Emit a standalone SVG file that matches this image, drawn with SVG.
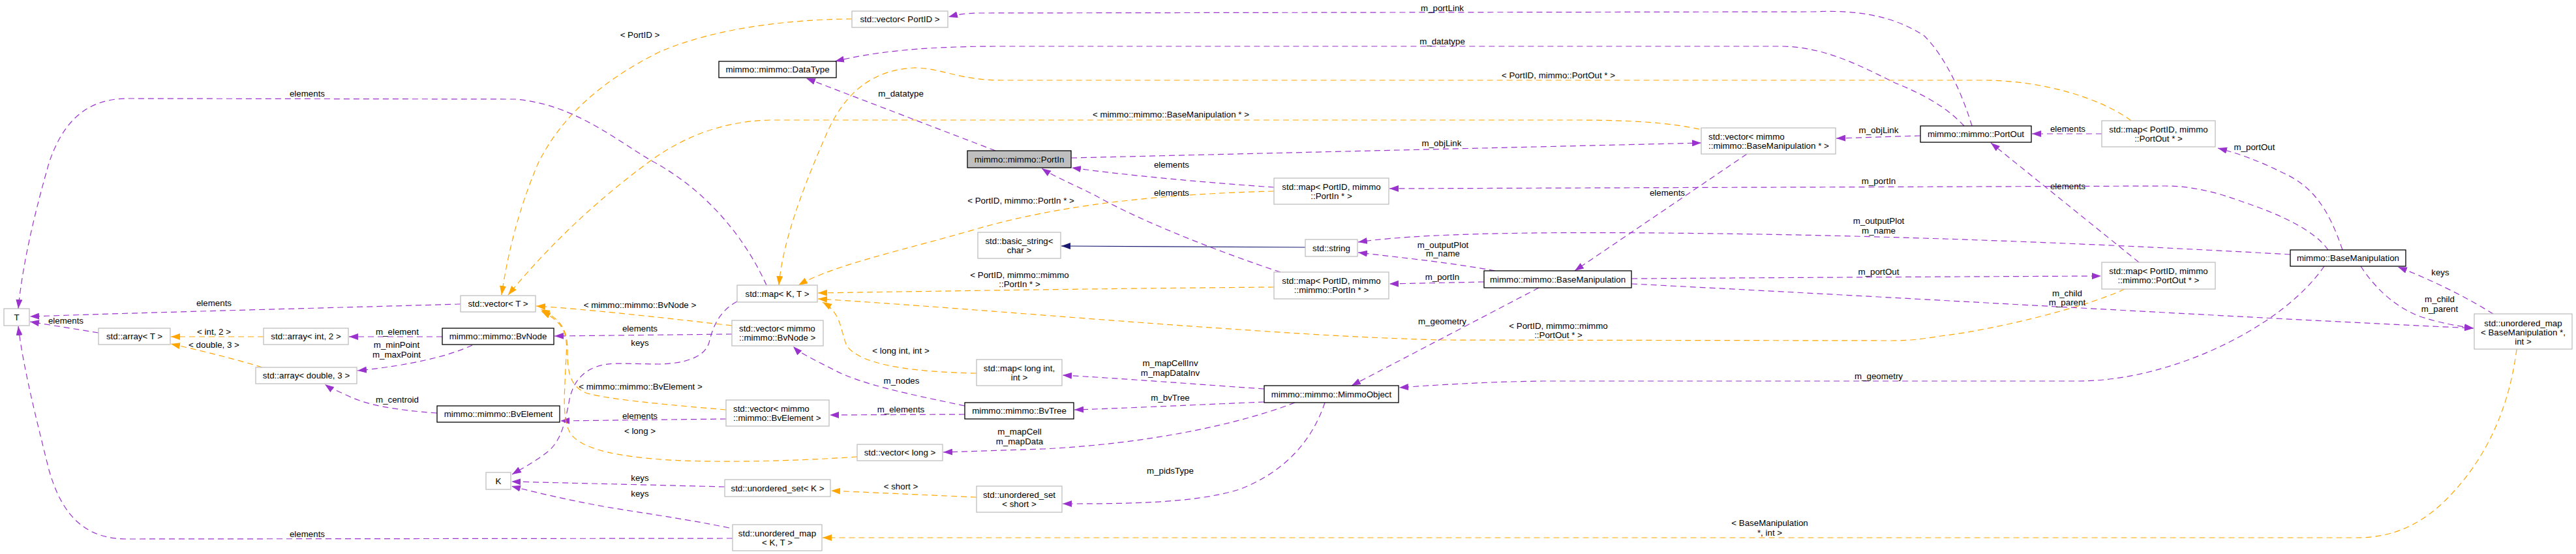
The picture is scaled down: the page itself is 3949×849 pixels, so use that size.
<svg xmlns="http://www.w3.org/2000/svg" width="3949" height="849" viewBox="0 0 3949 849">
<style>
text{font-family:"Liberation Sans",Arial,Helvetica,sans-serif;font-size:13.33px;fill:#000}
.n rect{fill:#fff;stroke:#bfbfbf;stroke-width:1.3}
.n.d rect{stroke:#000}
.n.g rect{fill:#bfbfbf;stroke:#000}
.n text{text-anchor:middle}
.n text.l{text-anchor:start}
#edges path{fill:none;stroke-width:1.2;stroke-dasharray:9,6}
#edges .p path{stroke:#9a32cd;marker-end:url(#ap)}
#edges .o path{stroke:#ffa500;marker-end:url(#ao)}
#edges .b path{stroke:#191970;stroke-dasharray:none;marker-end:url(#ab)}
#edges text{text-anchor:middle}
</style>
<defs>
<marker id="ap" viewBox="0 0 14 10" refX="14" refY="5" markerWidth="14" markerHeight="10" markerUnits="userSpaceOnUse" orient="auto"><path d="M0,0L14,5L0,10z" fill="#9a32cd"/></marker>
<marker id="ao" viewBox="0 0 14 10" refX="14" refY="5" markerWidth="14" markerHeight="10" markerUnits="userSpaceOnUse" orient="auto"><path d="M0,0L14,5L0,10z" fill="#ffa500"/></marker>
<marker id="ab" viewBox="0 0 14 10" refX="14" refY="5" markerWidth="14" markerHeight="10" markerUnits="userSpaceOnUse" orient="auto"><path d="M0,0L14,5L0,10z" fill="#191970"/></marker>
</defs>
<rect width="3949" height="849" fill="#fff"/>

<g id="edges">
<g class="o"><path d="M1306,29 C1200,30 1090,45 1010,80 C920,125 860,180 825,250 C795,320 778,390 769,452"/><text x="981" y="57.5">&lt; PortID &gt;</text></g>
<g class="p"><path d="M1175,437 C1140,360 1080,290 1000,247 C940,212 880,160 790,152 L195,151 C130,151 95,190 75,250 C55,320 35,400 28,473"/><text x="471" y="147.5">elements</text></g>
<g class="p"><path d="M706,466 C500,472 250,478 46,485"/><text x="328" y="468.5">elements</text></g>
<g class="p"><path d="M151,510 L46,493"/><text x="101" y="495.5">elements</text></g>
<g class="o"><path d="M404,516 L262,516"/><text x="328" y="512.5">&lt; int, 2 &gt;</text></g>
<g class="o"><path d="M402,563 C370,553 320,540 262,527"/><text x="328" y="532.5">&lt; double, 3 &gt;</text></g>
<g class="p"><path d="M678,516 L535,516"/><text x="609" y="512.5">m_element</text></g>
<g class="p"><path d="M724,529 C690,545 630,560 548,568"/><text x="608" y="532.5">m_minPoint</text><text x="608" y="547.5">m_maxPoint</text></g>
<g class="p"><path d="M670,633 C600,628 560,620 530,605 C515,598 505,594 498,589"/><text x="609" y="616.5">m_centroid</text></g>
<g class="p"><path d="M1122,512 L850,515"/><text x="981" y="507.5">elements</text></g>
<g class="o"><path d="M1122,499 C1000,485 900,474 822,469"/><text x="981" y="471.5">&lt; mimmo::mimmo::BvNode &gt;</text></g>
<g class="p"><path d="M1130,462 C1100,478 1092,505 1087,525 C1080,548 1050,557 1010,558 L945,557 C900,558 880,580 873,612 C866,650 860,675 840,692 C820,708 800,718 785,727"/><text x="981" y="529.5">keys</text></g>
<g class="p"><path d="M1113,642 L859,645"/><text x="981" y="641.5">elements</text></g>
<g class="o"><path d="M1113,628 C1020,620 930,612 898,602 C874,592 870,570 870,540 C870,510 865,492 829,474"/><text x="982" y="596.5">&lt; mimmo::mimmo::BvElement &gt;</text></g>
<g class="o"><path d="M1314,700 C1200,708 1060,710 990,702 C930,696 890,685 875,665 C862,645 865,610 867,565 C869,520 875,500 830,477"/><text x="981" y="664.5">&lt; long &gt;</text></g>
<g class="p"><path d="M1111,746 L784,738"/><text x="981" y="736.5">keys</text></g>
<g class="p"><path d="M1118,809 C1050,795 990,787 930,777 C880,768 830,757 784,745"/><text x="981" y="760.5">keys</text></g>
<g class="p"><path d="M1123,825 L195,826 C130,826 95,790 75,720 C55,640 35,560 28,500"/><text x="471" y="822.5">elements</text></g>
<g class="p"><path d="M1526,231 L1236,120"/><text x="1381" y="147.5">m_datatype</text></g>
<g class="p"><path d="M3011,193 C2985,165 2950,145 2905,127 C2860,105 2800,72 2733,71 L1530,71 C1400,71 1330,82 1280,94"/><text x="2211" y="67.5">m_datatype</text></g>
<g class="p"><path d="M3023,193 C3010,150 2985,90 2950,55 C2900,22 2840,15 2780,18 L1500,20 C1480,20 1465,23 1454,26"/><text x="2211" y="16.5">m_portLink</text></g>
<g class="o"><path d="M3267,185 C3220,150 3130,123 3040,123 L1535,123 C1470,123 1440,103 1400,104 C1330,108 1290,150 1265,210 C1230,290 1200,370 1194,437"/><text x="2389" y="119.5">&lt; PortID, mimmo::PortOut * &gt;</text></g>
<g class="o"><path d="M2605,198 C2560,188 2500,184 2420,184 L1180,184 C1100,186 1040,215 995,248 C900,318 830,390 779,452"/><text x="1795" y="179.5">&lt; mimmo::mimmo::BaseManipulation * &gt;</text></g>
<g class="p"><path d="M1642,242 L2608,219"/><text x="2210" y="223.5">m_objLink</text></g>
<g class="p"><path d="M2944,208 L2815,212"/><text x="2880" y="203.5">m_objLink</text></g>
<g class="p"><path d="M1953,287 C1850,280 1720,268 1643,257"/><text x="1796" y="256.5">elements</text></g>
<g class="o"><path d="M1953,293 C1800,297 1640,310 1500,350 C1380,385 1280,405 1224,437"/><text x="1565" y="311.5">&lt; PortID, mimmo::PortIn * &gt;</text></g>
<g class="p"><path d="M1963,417 C1880,390 1750,340 1680,300 C1640,280 1615,270 1597,258"/><text x="1796" y="299.5">elements</text></g>
<g class="o"><path d="M1953,440 C1700,442 1450,446 1254,449"/><text x="1563" y="425.5">&lt; PortID, mimmo::mimmo</text><text x="1563" y="439.5">::PortIn * &gt;</text></g>
<g class="b"><path d="M2001,379 L1627,377"/></g>
<g class="o"><path d="M3257,443 C3200,470 3060,505 2975,515 C2945,520 2925,522 2900,522 L2210,521 C2100,518 2000,512 1900,505 C1700,492 1450,470 1254,458"/><text x="2389" y="503.5">&lt; PortID, mimmo::mimmo</text><text x="2389" y="517.5">::PortOut * &gt;</text></g>
<g class="p"><path d="M3511,390 C3300,378 3000,364 2700,359 C2450,355 2200,354 2082,371"/><text x="2880" y="342.5">m_outputPlot</text><text x="2880" y="357.5">m_name</text></g>
<g class="p"><path d="M2292,415 C2220,402 2150,395 2082,387"/><text x="2212" y="379.5">m_outputPlot</text><text x="2212" y="392.5">m_name</text></g>
<g class="p"><path d="M2275,432 L2130,435"/><text x="2211" y="428.5">m_portIn</text></g>
<g class="p"><path d="M3569,383 C3550,355 3500,330 3440,310 C3400,295 3360,285 3320,285 L2130,289"/><text x="2880" y="281.5">m_portIn</text></g>
<g class="p"><path d="M2678,236 L2414,415"/><text x="2556" y="299.5">elements</text></g>
<g class="p"><path d="M2359,441 L2072,591"/><text x="2211" y="496.5">m_geometry</text></g>
<g class="p"><path d="M3563,408 C3500,500 3330,584 3185,584 L2365,584 C2280,585 2200,590 2145,594"/><text x="2880" y="580.5">m_geometry</text></g>
<g class="p"><path d="M2501,427 C2800,425 3000,424 3221,423"/><text x="2880" y="420.5">m_portOut</text></g>
<g class="p"><path d="M3591,383 C3570,320 3545,285 3500,265 C3460,245 3430,235 3400,227"/><text x="3456" y="229.5">m_portOut</text></g>
<g class="p"><path d="M3222,205 L3115,205"/><text x="3170" y="201.5">elements</text></g>
<g class="p"><path d="M3279,402 L3052,219"/><text x="3170" y="289.5">elements</text></g>
<g class="p"><path d="M2501,435 C2900,455 3400,485 3792,503"/><text x="3169" y="453.5">m_child</text><text x="3169" y="467.5">m_parent</text></g>
<g class="p"><path d="M3619,408 C3640,440 3670,470 3710,485 C3740,495 3770,500 3792,503"/><text x="3740" y="462.5">m_child</text><text x="3740" y="477.5">m_parent</text></g>
<g class="p"><path d="M3822,481 C3780,455 3730,430 3676,409"/><text x="3741" y="421.5">keys</text></g>
<g class="o"><path d="M3858,535 C3845,640 3800,720 3740,775 C3700,810 3660,824 3613,824 L1261,824"/><text x="2713" y="805.5">&lt; BaseManipulation</text><text x="2713" y="820.5">*, int &gt;</text></g>
<g class="p"><path d="M1938,596 C1850,590 1720,580 1629,575"/><text x="1794" y="560.5">m_mapCellInv</text><text x="1794" y="575.5">m_mapDataInv</text></g>
<g class="p"><path d="M1938,616 C1840,620 1740,625 1647,628"/><text x="1794" y="613.5">m_bvTree</text></g>
<g class="p"><path d="M1985,617 C1900,650 1760,680 1600,688 L1446,693"/><text x="1563" y="665.5">m_mapCell</text><text x="1563" y="680.5">m_mapData</text></g>
<g class="p"><path d="M2031,617 C2010,680 1965,725 1900,750 C1830,772 1720,772 1629,772"/><text x="1794" y="725.5">m_pidsType</text></g>
<g class="o"><path d="M1497,572 C1400,570 1320,560 1298,530 C1288,505 1290,480 1261,463"/><text x="1381" y="541.5">&lt; long int, int &gt;</text></g>
<g class="p"><path d="M1479,622 C1400,605 1320,590 1275,565 C1245,550 1225,540 1216,531"/><text x="1382" y="587.5">m_nodes</text></g>
<g class="p"><path d="M1479,635 L1272,636"/><text x="1381" y="631.5">m_elements</text></g>
<g class="o"><path d="M1497,762 L1274,752"/><text x="1381" y="749.5">&lt; short &gt;</text></g>
</g>

<g id="n_T" class="n"><rect x="6" y="473" width="39" height="26"/><text x="25.5" y="490.7">T</text></g>
<g id="n_vecT" class="n"><rect x="706" y="453" width="115" height="25"/><text x="763.5" y="470.2">std::vector&lt; T &gt;</text></g>
<g id="n_arrT" class="n"><rect x="151" y="503" width="110" height="25"/><text x="206" y="520.2">std::array&lt; T &gt;</text></g>
<g id="n_arrInt2" class="n"><rect x="404" y="503" width="130" height="25"/><text x="469" y="520.2">std::array&lt; int, 2 &gt;</text></g>
<g id="n_BvNode" class="n d"><rect x="678" y="503" width="171" height="25"/><text x="763.5" y="520.2">mimmo::mimmo::BvNode</text></g>
<g id="n_arrD3" class="n"><rect x="392" y="563" width="155" height="25"/><text x="469.5" y="580.2">std::array&lt; double, 3 &gt;</text></g>
<g id="n_BvElement" class="n d"><rect x="670" y="622" width="188" height="25"/><text x="764" y="639.2">mimmo::mimmo::BvElement</text></g>
<g id="n_K" class="n"><rect x="745" y="724" width="38" height="26"/><text x="764" y="741.7">K</text></g>
<g id="n_vecPortID" class="n"><rect x="1306" y="17" width="147" height="25"/><text x="1379.5" y="34.2">std::vector&lt; PortID &gt;</text></g>
<g id="n_DataType" class="n d"><rect x="1102" y="94" width="180" height="25"/><text x="1192" y="111.2">mimmo::mimmo::DataType</text></g>
<g id="n_PortIn" class="n g"><rect x="1483" y="231" width="159" height="26"/><text x="1562.5" y="248.7">mimmo::mimmo::PortIn</text></g>
<g id="n_basicString" class="n"><rect x="1499" y="356" width="127" height="40"/><text x="1562.5" y="373.7">std::basic_string&lt;</text><text x="1562.5" y="387.7">char &gt;</text></g>
<g id="n_mapKT" class="n"><rect x="1130" y="437" width="123" height="26"/><text x="1191.5" y="454.7">std::map&lt; K, T &gt;</text></g>
<g id="n_vecBvNode" class="n"><rect x="1122" y="491" width="140" height="39"/><text class="l" x="1133" y="508.2">std::vector&lt; mimmo</text><text class="l" x="1133" y="522.2">::mimmo::BvNode &gt;</text></g>
<g id="n_mapLongInt" class="n"><rect x="1497" y="551" width="131" height="40"/><text x="1562.5" y="568.7">std::map&lt; long int,</text><text x="1562.5" y="582.7">int &gt;</text></g>
<g id="n_vecBvElement" class="n"><rect x="1113" y="613" width="158" height="40"/><text class="l" x="1124" y="630.7">std::vector&lt; mimmo</text><text class="l" x="1124" y="644.7">::mimmo::BvElement &gt;</text></g>
<g id="n_BvTree" class="n d"><rect x="1479" y="617" width="167" height="25"/><text x="1562.5" y="634.2">mimmo::mimmo::BvTree</text></g>
<g id="n_vecLong" class="n"><rect x="1314" y="681" width="131" height="25"/><text x="1379.5" y="698.2">std::vector&lt; long &gt;</text></g>
<g id="n_usetK" class="n"><rect x="1111" y="735" width="162" height="26"/><text x="1192" y="752.7">std::unordered_set&lt; K &gt;</text></g>
<g id="n_usetShort" class="n"><rect x="1497" y="745" width="131" height="40"/><text x="1562.5" y="762.7">std::unordered_set</text><text x="1562.5" y="776.7">&lt; short &gt;</text></g>
<g id="n_umapKT" class="n"><rect x="1123" y="804" width="137" height="40"/><text x="1191.5" y="821.7">std::unordered_map</text><text x="1191.5" y="835.7">&lt; K, T &gt;</text></g>
<g id="n_MimmoObject" class="n d"><rect x="1938" y="591" width="206" height="26"/><text x="2041" y="608.7">mimmo::mimmo::MimmoObject</text></g>
<g id="n_vecBM" class="n"><rect x="2608" y="196" width="206" height="40"/><text class="l" x="2619" y="213.7">std::vector&lt; mimmo</text><text class="l" x="2619" y="227.7">::mimmo::BaseManipulation * &gt;</text></g>
<g id="n_mapPortIn" class="n"><rect x="1953" y="273" width="176" height="40"/><text x="2041" y="290.7">std::map&lt; PortID, mimmo</text><text x="2041" y="304.7">::PortIn * &gt;</text></g>
<g id="n_string" class="n"><rect x="2001" y="367" width="80" height="26"/><text x="2041" y="384.7">std::string</text></g>
<g id="n_mapPortIn2" class="n"><rect x="1953" y="417" width="176" height="41"/><text x="2041" y="435.2">std::map&lt; PortID, mimmo</text><text x="2041" y="449.2">::mimmo::PortIn * &gt;</text></g>
<g id="n_BaseManipM" class="n d"><rect x="2275" y="415" width="226" height="26"/><text x="2388" y="432.7">mimmo::mimmo::BaseManipulation</text></g>
<g id="n_PortOut" class="n d"><rect x="2944" y="193" width="170" height="25"/><text x="3029" y="210.2">mimmo::mimmo::PortOut</text></g>
<g id="n_mapPortOut" class="n"><rect x="3222" y="185" width="174" height="40"/><text x="3309" y="202.7">std::map&lt; PortID, mimmo</text><text x="3309" y="216.7">::PortOut * &gt;</text></g>
<g id="n_BaseManip" class="n d"><rect x="3511" y="383" width="177" height="25"/><text x="3599.5" y="400.2">mimmo::BaseManipulation</text></g>
<g id="n_mapPortOut2" class="n"><rect x="3222" y="402" width="174" height="41"/><text x="3309" y="420.2">std::map&lt; PortID, mimmo</text><text x="3309" y="434.2">::mimmo::PortOut * &gt;</text></g>
<g id="n_umapBM" class="n"><rect x="3793" y="481" width="150" height="54"/><text x="3868" y="499.7">std::unordered_map</text><text x="3868" y="513.7">&lt; BaseManipulation *,</text><text x="3868" y="527.7">int &gt;</text></g>
</svg>
